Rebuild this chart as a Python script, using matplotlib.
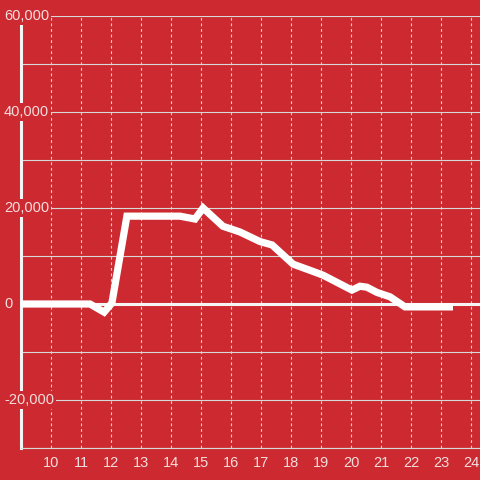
import matplotlib
matplotlib.use("Agg")
import matplotlib.pyplot as plt
import matplotlib.transforms as mtransforms

x_vals = [9.0, 11.3, 11.77, 12.03, 12.53, 14.3, 14.8, 15.07, 15.73, 16.3, 16.97, 17.37,
          18.07, 18.73, 19.07, 20.03, 20.3, 20.53, 20.87, 21.3, 21.8, 23.4]
y_vals = [0, 0, -1700, 200, 18300, 18300, 17700, 20000, 16200, 15000, 13000, 12300,
          8300, 6800, 6000, 2900, 3700, 3500, 2400, 1500, -600, -600]
x_ticks = list(range(10, 25))
y_grid = [-30000, -20000, -10000, 0, 10000, 20000, 30000, 40000, 50000, 60000]
y_label_vals = [-20000, 0, 20000, 40000, 60000]
y_label_txt = ["-20,000", "0", "20,000", "40,000", "60,000"]

BG = "#cc2a30"
TXT = "#f3dede"
GRID = "#d8d8d8"

plt.rcParams['font.family'] = ['Liberation Sans', 'DejaVu Sans']
fig = plt.figure(figsize=(4.8, 4.8), dpi=100, facecolor=BG)
ax = fig.add_axes([21/480, 32/480, 1 - 21/480, (448-16)/480])
ax.set_facecolor(BG)
ax.set_xlim(9, 9 + 459/30)
ax.set_ylim(-30000, 60000)

for s in ['top', 'right']:
    ax.spines[s].set_visible(False)
ax.spines['left'].set_color('#f5f5f5')
ax.spines['left'].set_linewidth(2.2)
ax.spines['bottom'].set_color(GRID)
ax.spines['bottom'].set_linewidth(0.8)

for yv in y_grid:
    if yv == 0:
        continue
    ax.axhline(yv, color=GRID, lw=0.8, zorder=1)
for xv in x_ticks:
    ax.axvline(xv, color=GRID, lw=0.8, ls=(0, (2.5, 2.5)), zorder=1)
ax.axhline(0, color='#f5f5f5', lw=2.2, zorder=2)

ax.plot(x_vals, y_vals, color='white', lw=5.2, solid_joinstyle='miter',
        solid_capstyle='butt', zorder=3)

ax.set_xticks(x_ticks)
ax.set_xticklabels([str(v) for v in x_ticks])
ax.tick_params(axis='x', length=0, pad=6, labelcolor=TXT, labelsize=10.5)
ax.set_yticks([])

trans = mtransforms.blended_transform_factory(fig.transFigure, ax.transData)
for yv, t in zip(y_label_vals, y_label_txt):
    fig.text(4/480, yv, t, transform=trans, ha='left', va='center', color=TXT,
             fontsize=10.5, zorder=5,
             bbox=dict(boxstyle='square,pad=0.15', fc=BG, ec='none'))

fig.savefig("out.png", dpi=100, facecolor=BG)
